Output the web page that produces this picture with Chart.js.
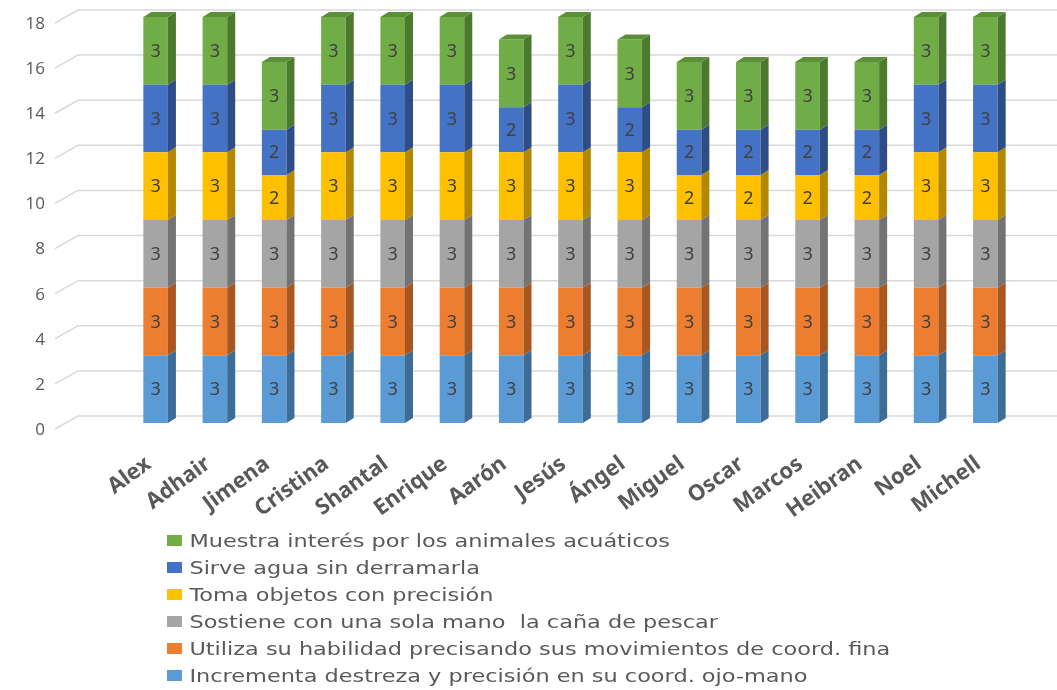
<!DOCTYPE html>
<html>
<head>
<meta charset="utf-8">
<script src="https://cdn.jsdelivr.net/npm/chart.js@4.4.1/dist/chart.umd.min.js"></script>
<style>
  html, body { margin: 0; padding: 0; background: #fff; }
  #wrap { position: relative; width: 1057px; height: 690px; overflow: hidden; }
  #legend {
    position: absolute; left: 167px; top: 527px;
    font-family: "DejaVu Sans", sans-serif; font-size: 18px; color: #595959;
    transform: scaleX(1.245); transform-origin: 0 0;
  }
  #legend div { height: 27px; line-height: 27px; white-space: pre; }
  #legend span.box {
    display: inline-block; width: 12px; height: 11px; margin-right: 6px;
    vertical-align: 1px;
  }
</style>
</head>
<body>
<div id="wrap">
  <canvas id="chart" width="1057" height="690"></canvas>
  <div id="legend"></div>
</div>
<script>
const students = ["Alex", "Adhair", "Jimena", "Cristina", "Shantal", "Enrique", "Aarón", "Jesús",
  "Ángel", "Miguel", "Oscar", "Marcos", "Heibran", "Noel", "Michell"];

const seriesNames = [
  "Incrementa destreza y precisión en su coord. ojo-mano",
  "Utiliza su habilidad precisando sus movimientos de coord. fina",
  "Sostiene con una sola mano  la caña de pescar",
  "Toma objetos con precisión",
  "Sirve agua sin derramarla",
  "Muestra interés por los animales acuáticos"
];

const destreza   = [3, 3, 3, 3, 3, 3, 3, 3, 3, 3, 3, 3, 3, 3, 3];
const habilidad  = [3, 3, 3, 3, 3, 3, 3, 3, 3, 3, 3, 3, 3, 3, 3];
const sostiene   = [3, 3, 3, 3, 3, 3, 3, 3, 3, 3, 3, 3, 3, 3, 3];
const tomaObj    = [3, 3, 2, 3, 3, 3, 3, 3, 3, 2, 2, 2, 2, 3, 3];
const sirveAgua  = [3, 3, 2, 3, 3, 3, 2, 3, 2, 2, 2, 2, 2, 3, 3];
const interes    = [3, 3, 3, 3, 3, 3, 3, 3, 3, 3, 3, 3, 3, 3, 3];

const yTicks = [0, 2, 4, 6, 8, 10, 12, 14, 16, 18];

const frontColors = ["#5B9BD5", "#ED7D31", "#A5A5A5", "#FFC000", "#4472C4", "#70AD47"];
const sideColors  = ["#3D6C96", "#A9561F", "#737373", "#B38700", "#2E4D87", "#4B7A2E"];
const topGreen = "#5C8F3A";

const DX = 8, DY = -5;

// 3D style gridlines
const grid3d = {
  id: "grid3d",
  beforeDatasetsDraw(chart) {
    const { ctx } = chart;
    const y = chart.scales.y;
    ctx.save();
    ctx.strokeStyle = "#d9d9d9";
    ctx.lineWidth = 1.5;
    yTicks.forEach(v => {
      const py = y.getPixelForValue(v);
      ctx.beginPath();
      ctx.moveTo(55, py + 6);
      ctx.lineTo(78, py - 7);
      ctx.lineTo(chart.width, py - 7);
      ctx.stroke();
    });
    ctx.restore();
  }
};

// side / top faces of the bars + value labels
const bar3d = {
  id: "bar3d",
  afterDatasetsDraw(chart) {
    const { ctx } = chart;
    const last = chart.data.datasets.length - 1;
    ctx.save();
    chart.data.datasets.forEach((ds, i) => {
      const meta = chart.getDatasetMeta(i);
      meta.data.forEach((bar, j) => {
        const { x, y, base, width } = bar.getProps(["x", "y", "base", "width"], true);
        const l = x - width / 2, r = x + width / 2;
        ctx.fillStyle = sideColors[i];
        ctx.beginPath();
        ctx.moveTo(r, y);
        ctx.lineTo(r + DX, y + DY);
        ctx.lineTo(r + DX, base + DY);
        ctx.lineTo(r, base);
        ctx.closePath();
        ctx.fill();
        if (i === last) {
          ctx.fillStyle = topGreen;
          ctx.beginPath();
          ctx.moveTo(l, y);
          ctx.lineTo(l + DX, y + DY);
          ctx.lineTo(r + DX, y + DY);
          ctx.lineTo(r, y);
          ctx.closePath();
          ctx.fill();
        }
        ctx.fillStyle = "#404040";
        ctx.font = 'normal 400 18px "Noto Sans"';
        ctx.textAlign = "center";
        ctx.textBaseline = "middle";
        ctx.fillText(String(ds.data[j]), x, (y + base) / 2 + 1);
      });
    });
    ctx.restore();
  }
};

const seriesData = [destreza, habilidad, sostiene, tomaObj, sirveAgua, interes];

new Chart(document.getElementById("chart"), {
  type: "bar",
  data: {
    labels: students,
    datasets: seriesData.map((d, i) => ({
      label: seriesNames[i],
      data: d,
      backgroundColor: frontColors[i],
      borderWidth: 0,
      barPercentage: 0.415,
      categoryPercentage: 1
    }))
  },
  options: {
    responsive: false,
    animation: false,
    layout: { padding: { top: 17, right: 42, left: 0, bottom: 0 } },
    plugins: {
      legend: { display: false },
      tooltip: { enabled: false }
    },
    scales: {
      x: {
        stacked: true,
        grid: { display: false },
        border: { display: false },
        ticks: {
          color: "#595959",
          font: { family: "Noto Sans", size: 22, weight: "bold", style: "normal" },
          minRotation: 36,
          maxRotation: 36,
          padding: 20,
          labelOffset: -7
        },
        afterFit(scale) { scale.height = 690 - 423; }
      },
      y: {
        stacked: true,
        min: 0,
        max: 18,
        afterBuildTicks(scale) { scale.ticks = yTicks.map(v => ({ value: v })); },
        grid: { display: false },
        border: { display: false },
        ticks: {
          color: "#595959",
          font: { family: "Open Sans", size: 17 },
          padding: 73,
          labelOffset: 7
        },
        afterFit(scale) {
          scale.width = 126;
          scale.paddingTop = 0;
          scale.paddingBottom = 0;
        }
      }
    }
  },
  plugins: [grid3d, bar3d]
});

// legend, top series first like the original
const legend = document.getElementById("legend");
for (let i = seriesNames.length - 1; i >= 0; i--) {
  const row = document.createElement("div");
  const box = document.createElement("span");
  box.className = "box";
  box.style.background = frontColors[i];
  row.appendChild(box);
  row.appendChild(document.createTextNode(seriesNames[i]));
  legend.appendChild(row);
}
</script>
</body>
</html>
